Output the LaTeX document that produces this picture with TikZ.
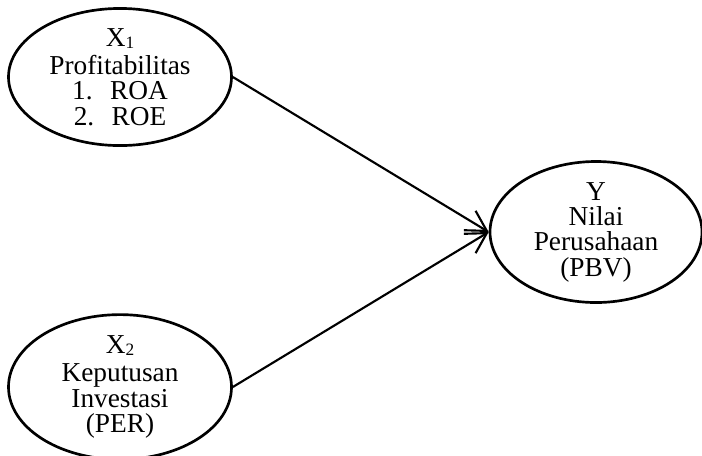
\documentclass[tikz,border=0pt]{standalone}
\usepackage{fontspec}
\setmainfont{Liberation Serif}
\usetikzlibrary{shapes.geometric,arrows.meta}
\newcommand{\lowsub}[1]{\raisebox{-1.5pt}{\fontsize{13}{13}\selectfont #1}}
\begin{document}
\begin{tikzpicture}[x=0.75pt,y=-0.75pt,
  oval/.style={draw=black,line width=2pt,ellipse,inner sep=0pt,align=center,
    font=\fontsize{20.5}{19}\selectfont},
  link/.style={line width=1.6pt,-{Straight Barb[length=15pt,width=17pt,line width=1.6pt]}}]
\useasboundingbox (0,0) rectangle (702,455);
\node[oval,minimum width=223*0.75pt,minimum height=136*0.75pt] (x1) at (120,77)
  {X\lowsub{1}\\[2pt]Profitabilitas\\1.\hspace{13pt}ROA\\2.\hspace{13pt}ROE};
\node[oval,minimum width=223*0.75pt,minimum height=133*0.75pt] (x2) at (120,387)
  {X\lowsub{2}\\[2pt]Keputusan\\Investasi\\(PER)};
\node[oval,minimum width=212*0.75pt,minimum height=137*0.75pt] (y) at (596,232)
  {Y\\Nilai\\Perusahaan\\(PBV)};
\draw[link] (x1.east) -- (y.west);
\draw[link] (x2.east) -- (y.west);
\end{tikzpicture}
\end{document}
